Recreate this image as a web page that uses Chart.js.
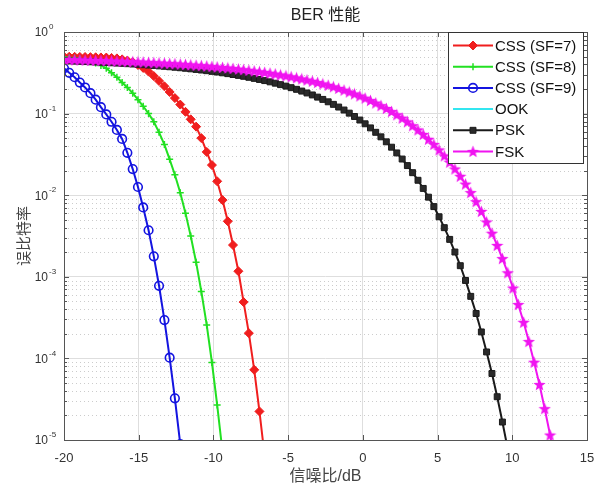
<!DOCTYPE html>
<html>
<head>
<meta charset="utf-8">
<script src="https://cdn.jsdelivr.net/npm/chart.js@4.4.0/dist/chart.umd.min.js"></script>
<style>
  html, body { margin: 0; padding: 0; background: #fff; }
  #wrap { width: 596px; height: 491px; }
</style>
</head>
<body>
<div id="wrap"><canvas id="berChart" width="596" height="491"></canvas></div>
<script>
// SNR grid (dB), 100 points from -20 to 15
const snr = [
  -20.00, -19.65, -19.29, -18.94, -18.59, -18.23, -17.88, -17.53, -17.17, -16.82,
  -16.46, -16.11, -15.76, -15.40, -15.05, -14.70, -14.34, -13.99, -13.64, -13.28,
  -12.93, -12.58, -12.22, -11.87, -11.52, -11.16, -10.81, -10.45, -10.10, -9.75,
  -9.39, -9.04, -8.69, -8.33, -7.98, -7.63, -7.27, -6.92, -6.57, -6.21,
  -5.86, -5.51, -5.15, -4.80, -4.44, -4.09, -3.74, -3.38, -3.03, -2.68,
  -2.32, -1.97, -1.62, -1.26, -0.91, -0.56, -0.20, 0.15, 0.51, 0.86,
  1.21, 1.57, 1.92, 2.27, 2.63, 2.98, 3.33, 3.69, 4.04, 4.39,
  4.75, 5.10, 5.45, 5.81, 6.16, 6.52, 6.87, 7.22, 7.58, 7.93,
  8.28, 8.64, 8.99, 9.34, 9.70, 10.05, 10.40, 10.76, 11.11, 11.46,
  11.82, 12.17, 12.53, 12.88
];

const css7 = [
  0.498, 0.497, 0.496, 0.495, 0.494, 0.492, 0.490, 0.488, 0.486, 0.481,
  0.475, 0.462, 0.447, 0.427, 0.394, 0.363, 0.327, 0.288, 0.251, 0.216,
  0.184, 0.155, 0.129, 0.105, 0.0851, 0.0692, 0.0501, 0.0339, 0.0234, 0.0148,
  0.00871, 0.00479, 0.00245, 0.00117, 4.90e-4, 2.04e-4, 7.24e-5, 2.24e-5, 6.3e-6
];

const css8 = [
  0.490, 0.484, 0.479, 0.468, 0.452, 0.437, 0.417, 0.389, 0.359, 0.316,
  0.279, 0.240, 0.209, 0.178, 0.148, 0.123, 0.100, 0.0794, 0.0589, 0.0417,
  0.0275, 0.0178, 0.0107, 0.00603, 0.00316, 0.00151, 6.61e-4, 2.57e-4, 8.91e-5, 2.69e-5,
  7.1e-6
];

const css9 = [
  0.359, 0.316, 0.279, 0.240, 0.209, 0.178, 0.148, 0.120, 0.0977, 0.0794,
  0.0631, 0.0490, 0.0331, 0.0209, 0.0126, 0.00708, 0.00372, 0.00178, 7.76e-4, 2.95e-4,
  1.02e-4, 3.24e-5, 8.9e-6
];

const ook = [];

const psk = [
  0.4438, 0.4414, 0.4390, 0.4365, 0.4339, 0.4312, 0.4284, 0.4254, 0.4224, 0.4192,
  0.4159, 0.4124, 0.4089, 0.4051, 0.4013, 0.3973, 0.3931, 0.3888, 0.3843, 0.3797,
  0.3748, 0.3698, 0.3646, 0.3593, 0.3537, 0.3478, 0.3418, 0.3356, 0.3293, 0.3229,
  0.3160, 0.3088, 0.3014, 0.2940, 0.2864, 0.2785, 0.2702, 0.2620, 0.2537, 0.2450,
  0.2358, 0.2265, 0.2172, 0.2078, 0.1984, 0.1888, 0.1790, 0.1693, 0.1592, 0.1493,
  0.1395, 0.1298, 0.1203, 0.1106, 0.1013, 0.0922, 0.0834, 0.0750, 0.0668, 0.0590,
  0.0519, 0.0451, 0.03875, 0.03296, 0.02774, 0.02306, 0.01888, 0.01524, 0.01211, 0.00946,
  0.00725, 0.00544, 0.00400, 0.002874, 0.002012, 0.001368, 9.02e-4, 5.76e-4, 3.55e-4, 2.11e-4,
  1.20e-4, 6.53e-5, 3.39e-5, 1.66e-5, 7.73e-6
];

const fsk = [
  0.4602, 0.4585, 0.4568, 0.4550, 0.4532, 0.4512, 0.4492, 0.4471, 0.4449, 0.4427,
  0.4403, 0.4378, 0.4353, 0.4326, 0.4298, 0.4269, 0.4239, 0.4208, 0.4175, 0.4142,
  0.4107, 0.4070, 0.4033, 0.3994, 0.3954, 0.3913, 0.3868, 0.3821, 0.3773, 0.3724,
  0.3673, 0.3621, 0.3567, 0.3510, 0.3450, 0.3388, 0.3326, 0.3262, 0.3196, 0.3127,
  0.3053, 0.2978, 0.2903, 0.2825, 0.2744, 0.2662, 0.2579, 0.2492, 0.2403, 0.2313,
  0.2223, 0.2130, 0.2035, 0.1938, 0.1840, 0.1743, 0.1646, 0.1546, 0.1447, 0.1348,
  0.1251, 0.1155, 0.1060, 0.0968, 0.0879, 0.0793, 0.0710, 0.0631, 0.0556, 0.04848,
  0.04194, 0.03589, 0.03035, 0.02538, 0.02096, 0.01705, 0.01367, 0.01077, 0.00834, 0.00633,
  0.00470, 0.00342, 0.002426, 0.001673, 0.001120, 7.28e-4, 4.57e-4, 2.77e-4, 1.61e-4, 8.98e-5,
  4.78e-5, 2.42e-5, 1.15e-5, 5.20e-6
];

const seriesNames = ["CSS (SF=7)", "CSS (SF=8)", "CSS (SF=9)", "OOK", "PSK", "FSK"];
const xTicks = [-20, -15, -10, -5, 0, 5, 10, 15];
const yTicks = [1e-5, 1e-4, 1e-3, 1e-2, 1e-1, 1];
const yTickExp = ["-5", "-4", "-3", "-2", "-1", "0"];

const FONT = '"Liberation Sans", Arial, "Noto Sans CJK SC", sans-serif';
Chart.defaults.font.family = FONT;

function toPoints(vals) {
  return vals.map((v, i) => ({ x: snr[i], y: v }));
}

// filled pentagram for the FSK markers
function makeStar(size, color) {
  const c = document.createElement("canvas");
  c.width = size;
  c.height = size;
  const g = c.getContext("2d");
  const r = size / 2, ri = r * 0.42;
  g.beginPath();
  for (let k = 0; k < 10; k++) {
    const a = -Math.PI / 2 + k * Math.PI / 5;
    const rr = k % 2 ? ri : r;
    g.lineTo(r + rr * Math.cos(a), r + 0.5 + rr * Math.sin(a));
  }
  g.closePath();
  g.fillStyle = color;
  g.fill();
  return c;
}

const colors = ["#f01e1e", "#22e022", "#1414e0", "#33e6f0", "#1a1a1a", "#f014f0"];

const datasets = [
  { label: seriesNames[0], data: toPoints(css7), borderColor: colors[0], pointStyle: "rectRot",
    pointRadius: 4.5, pointBackgroundColor: colors[0], pointBorderColor: colors[0], pointBorderWidth: 1, order: 5 },
  { label: seriesNames[1], data: toPoints(css8), borderColor: colors[1], pointStyle: "cross",
    pointRadius: 3.5, pointBackgroundColor: colors[1], pointBorderColor: colors[1], pointBorderWidth: 1.5, order: 4 },
  { label: seriesNames[2], data: toPoints(css9), borderColor: colors[2], pointStyle: "circle",
    pointRadius: 4.3, pointBackgroundColor: "rgba(0,0,0,0)", pointBorderColor: colors[2], pointBorderWidth: 1.6, order: 3 },
  { label: seriesNames[3], data: toPoints(ook), borderColor: colors[3], pointStyle: "circle",
    pointRadius: 0, pointBackgroundColor: colors[3], pointBorderColor: colors[3], pointBorderWidth: 0, order: 2 },
  { label: seriesNames[4], data: toPoints(psk), borderColor: colors[4], pointStyle: "rect",
    pointRadius: 4.2, pointBackgroundColor: "#2a2a2a", pointBorderColor: colors[4], pointBorderWidth: 1, order: 1 },
  { label: seriesNames[5], data: toPoints(fsk), borderColor: colors[5], pointStyle: makeStar(13, colors[5]),
    pointRadius: 6, pointBackgroundColor: colors[5], pointBorderColor: colors[5], pointBorderWidth: 0, order: 0 }
];
datasets.forEach(ds => {
  ds.borderWidth = 2;
  ds.tension = 0;
  ds.fill = false;
});

// dotted minor grid (log y)
const minorGrid = {
  id: "minorGrid",
  beforeDatasetsDraw(chart) {
    const ctx = chart.ctx, a = chart.chartArea, ys = chart.scales.y;
    ctx.save();
    ctx.strokeStyle = "#cccccc";
    ctx.lineWidth = 1;
    ctx.setLineDash([1, 3]);
    for (let d = -5; d < 0; d++) {
      for (let m = 2; m <= 9; m++) {
        const y = Math.round(ys.getPixelForValue(m * Math.pow(10, d))) + 0.5;
        ctx.beginPath();
        ctx.moveTo(a.left, y);
        ctx.lineTo(a.right, y);
        ctx.stroke();
      }
    }
    ctx.restore();
  }
};

// axes box with inward ticks
const axesBox = {
  id: "axesBox",
  afterDatasetsDraw(chart) {
    const ctx = chart.ctx, a = chart.chartArea, xs = chart.scales.x, ys = chart.scales.y;
    ctx.save();
    ctx.strokeStyle = "#555";
    ctx.lineWidth = 1;
    ctx.beginPath();
    xTicks.forEach(v => {
      const x = Math.round(xs.getPixelForValue(v)) + 0.5;
      ctx.moveTo(x, a.bottom); ctx.lineTo(x, a.bottom - 5);
      ctx.moveTo(x, a.top); ctx.lineTo(x, a.top + 5);
    });
    yTicks.forEach(v => {
      const y = Math.round(ys.getPixelForValue(v)) + 0.5;
      ctx.moveTo(a.left, y); ctx.lineTo(a.left + 5, y);
      ctx.moveTo(a.right, y); ctx.lineTo(a.right - 5, y);
    });
    for (let d = -5; d < 0; d++) {
      for (let m = 2; m <= 9; m++) {
        const y = Math.round(ys.getPixelForValue(m * Math.pow(10, d))) + 0.5;
        ctx.moveTo(a.left, y); ctx.lineTo(a.left + 3, y);
        ctx.moveTo(a.right, y); ctx.lineTo(a.right - 3, y);
      }
    }
    ctx.stroke();
    ctx.strokeRect(Math.round(a.left) + 0.5, Math.round(a.top) + 0.5,
      Math.round(a.right - a.left), Math.round(a.bottom - a.top));
    ctx.restore();
  }
};

// title, y tick labels with superscripts, boxed legend
const overlay = {
  id: "overlay",
  afterDraw(chart) {
    const ctx = chart.ctx, a = chart.chartArea, ys = chart.scales.y;
    ctx.save();

    ctx.fillStyle = "#222";
    ctx.font = "16px " + FONT;
    ctx.textAlign = "center";
    ctx.textBaseline = "middle";
    ctx.fillText("BER 性能", (a.left + a.right) / 2, 16);

    ctx.fillStyle = "#333";
    yTicks.forEach((v, i) => {
      const y = ys.getPixelForValue(v);
      ctx.font = "12px " + FONT;
      ctx.textAlign = "right";
      ctx.fillText("10", ys.right - 16, y + 1);
      ctx.font = "8px " + FONT;
      ctx.textAlign = "left";
      ctx.fillText(yTickExp[i], ys.right - 15, y - 5);
    });

    const lw = 135, lh = 131;
    const lx = a.right - lw - 4, ly = a.top;
    ctx.fillStyle = "#fff";
    ctx.fillRect(lx, ly, lw, lh);
    ctx.strokeStyle = "#333";
    ctx.lineWidth = 1;
    ctx.strokeRect(lx + 0.5, ly + 0.5, lw, lh);
    chart.data.datasets.forEach((ds, k) => {
      const y = ly + 13.5 + k * 21.2;
      ctx.strokeStyle = ds.borderColor;
      ctx.lineWidth = ds.borderWidth;
      ctx.beginPath();
      ctx.moveTo(lx + 5, y);
      ctx.lineTo(lx + 45, y);
      ctx.stroke();
      if (ds.pointRadius > 0) {
        ctx.fillStyle = ds.pointBackgroundColor;
        ctx.strokeStyle = ds.pointBorderColor;
        ctx.lineWidth = ds.pointBorderWidth;
        Chart.helpers.drawPoint(ctx, {
          pointStyle: ds.pointStyle, radius: ds.pointRadius,
          rotation: 0, borderWidth: ds.pointBorderWidth
        }, lx + 25, y);
      }
      ctx.fillStyle = "#111";
      ctx.font = "15px " + FONT;
      ctx.textAlign = "left";
      ctx.textBaseline = "middle";
      ctx.fillText(ds.label, lx + 47, y + 1);
    });
    ctx.restore();
  }
};

new Chart(document.getElementById("berChart"), {
  type: "line",
  data: { datasets: datasets },
  options: {
    responsive: false,
    animation: false,
    devicePixelRatio: 1,
    layout: { padding: { top: 32, right: 9, left: 0, bottom: 0 } },
    plugins: {
      legend: { display: false },
      tooltip: { enabled: false }
    },
    scales: {
      x: {
        type: "linear",
        min: -20,
        max: 15,
        afterBuildTicks: s => { s.ticks = xTicks.map(v => ({ value: v })); },
        afterFit: s => { s.height = 51; s.paddingLeft = 0; s.paddingRight = 0; },
        ticks: { color: "#333", font: { size: 13 }, padding: 11 },
        grid: { color: "#dedede", drawTicks: false },
        border: { display: false },
        title: { display: true, text: "信噪比/dB", color: "#444", font: { size: 16 },
          padding: { top: 0, bottom: 5 } }
      },
      y: {
        type: "logarithmic",
        min: 1e-5,
        max: 1,
        afterBuildTicks: s => { s.ticks = yTicks.map(v => ({ value: v })); },
        afterFit: s => { s.width = 64; s.paddingTop = 0; s.paddingBottom = 0; },
        ticks: { display: false },
        grid: { color: "#dedede", drawTicks: false },
        border: { display: false },
        title: { display: true, text: "误比特率", color: "#444", font: { size: 15 },
          padding: { top: 16, bottom: 0 } }
      }
    }
  },
  plugins: [minorGrid, axesBox, overlay]
});
</script>
</body>
</html>
